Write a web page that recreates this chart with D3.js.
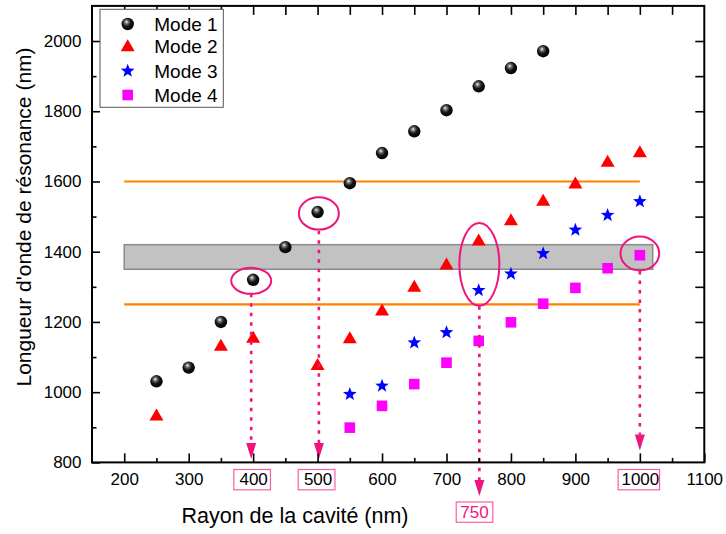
<!DOCTYPE html>
<html><head><meta charset="utf-8">
<script src="https://cdn.jsdelivr.net/npm/d3@7"></script>
<style>
html,body{margin:0;padding:0;background:#fff;}
svg{display:block;font-family:"Liberation Sans",Arial,sans-serif;}
</style></head>
<body>
<svg id="c" width="726" height="534"></svg>
<script>
// ---- data ----
const radii1 = [250,300,350,400,450,500,550,600,650,700,750,800,850];
const mode1  = [1031,1070,1200,1320,1413,1513,1595,1681,1743,1803,1871,1923,1971];
const radii2 = [250,350,400,500,550,600,650,700,750,800,850,900,950,1000];
const mode2  = [932,1131,1154,1076,1152,1231,1299,1362,1431,1488,1544,1593,1655,1682];
const radii3 = [550,600,650,700,750,800,850,900,950,1000];
const mode3  = [994,1018,1141,1170,1290,1337,1395,1462,1504,1543];
const radii4 = [550,600,650,700,750,800,850,900,950,1000];
const mode4  = [899,961,1023,1084,1146,1199,1252,1297,1353,1390];
const seriesNames = ["Mode 1","Mode 2","Mode 3","Mode 4"];
const xTicks = [200,300,400,500,600,700,800,900,1000,1100];
const yTicks = [800,1000,1200,1400,1600,1800,2000];
const xLabel = "Rayon de la cavité (nm)";
const yLabel = "Longueur d'onde de résonance (nm)";
// horizontal reference lines and band
const refLines = [1600,1250];
const refLineRange = [200,1000];
const band = {x0:200, x1:1020, y0:1350, y1:1420};
// highlighted points (ellipses): center x, center y, radius x, radius y (data units)
const ellX  = [397,502,751,1000];
const ellY  = [1317,1509,1364,1395];
const ellRX = [31,31,31,30];
const ellRY = [37,46,118,48];
// arrows from the ellipses down to the radius values
const arrX    = [397,502,751,1000];
const arrFrom = [1280,1460,1245,1345];
const arrTo   = [810,810,704,834];
const boxedTicks = [400,500,1000];
const extraLabel = {value:750, text:"750"};

// ---- layout ----
const svg = d3.select("#c");
const x = d3.scaleLinear().domain([150,1100]).range([92,704.3]);
const y = d3.scaleLinear().domain([800,2100]).range([462.4,5.9]);
const PINK = "#f0147f";
const defs = svg.append("defs");
const grad = defs.append("radialGradient").attr("id","sph").attr("cx","0.42").attr("cy","0.38").attr("r","0.62").attr("fx","0.4").attr("fy","0.33");
grad.append("stop").attr("offset","0").attr("stop-color","#ffffff");
grad.append("stop").attr("offset","0.22").attr("stop-color","#777");
grad.append("stop").attr("offset","0.55").attr("stop-color","#151515");
grad.append("stop").attr("offset","1").attr("stop-color","#000");

const g = svg.append("g");

// band
g.append("rect").attr("x",x(band.x0)).attr("y",y(band.y1))
 .attr("width",x(band.x1)-x(band.x0)).attr("height",y(band.y0)-y(band.y1))
 .attr("fill","#c2c2c2").attr("stroke","#8a8a8a").attr("stroke-width",1.5);

// orange lines
g.selectAll(".ref").data(refLines).join("line")
 .attr("x1",x(refLineRange[0])).attr("x2",x(refLineRange[1]))
 .attr("y1",d=>y(d)).attr("y2",d=>y(d))
 .attr("stroke","#ff8000").attr("stroke-width",2.2);

// axes
function styleAxis(sel){
  sel.select(".domain").remove();
  sel.selectAll("line").attr("stroke","#000").attr("stroke-width",1.6);
  sel.selectAll("text").attr("font-size","17px").attr("fill","#000").attr("font-family","Liberation Sans, Arial, sans-serif");
}
const minorX = [250,350,450,550,650,750,850,950,1050];
const minorY = [900,1100,1300,1500,1700,1900,2100];
svg.append("g").attr("transform","translate(0,462.4)")
 .call(d3.axisBottom(x).tickValues(xTicks).tickSize(-9).tickPadding(10.5).tickFormat(d3.format("d"))).call(styleAxis);
svg.append("g").attr("transform","translate(0,462.4)")
 .call(d3.axisBottom(x).tickValues(minorX).tickSize(-4.5).tickFormat("")).call(styleAxis);
svg.append("g").attr("transform","translate(92,0)")
 .call(d3.axisLeft(y).tickValues(yTicks).tickSize(-8).tickPadding(10.5).tickFormat(d3.format("d"))).call(styleAxis);
svg.append("g").attr("transform","translate(92,0)")
 .call(d3.axisLeft(y).tickValues(minorY.slice(0,6)).tickSize(-4.5).tickFormat("")).call(styleAxis);
svg.append("g").attr("transform","translate(0,5.9)")
 .call(d3.axisTop(x).tickValues(xTicks.slice(0,9).concat(minorX)).tickSize(-9).tickFormat("")).call(styleAxis);
svg.append("g").attr("transform","translate(704.3,0)")
 .call(d3.axisRight(y).tickValues(yTicks.slice(1).concat(minorY.slice(0,6))).tickSize(-9).tickFormat("")).call(styleAxis);
// frame
svg.append("rect").attr("x",92).attr("y",5.9).attr("width",704.3-92).attr("height",462.4-5.9)
 .attr("fill","none").attr("stroke","#000").attr("stroke-width",2);

// markers
function triPath(w,h){return `M0,${-h*0.62}L${w/2},${h*0.38}L${-w/2},${h*0.38}Z`;}
function starPath(R,r){let p="";for(let i=0;i<10;i++){const a=-Math.PI/2+i*Math.PI/5;const rr=i%2?r:R;p+=(i?"L":"M")+(rr*Math.cos(a)).toFixed(2)+","+(rr*Math.sin(a)).toFixed(2);}return p+"Z";}
function drawMarker(sel,k){
  if(k===0) sel.append("circle").attr("r",6.2).attr("fill","url(#sph)");
  else if(k===1) sel.append("path").attr("d",triPath(14,12)).attr("fill","#ff0000");
  else if(k===2) sel.append("path").attr("d",starPath(7.2,3)).attr("fill","#0000ff");
  else sel.append("rect").attr("x",-5.3).attr("y",-5.3).attr("width",10.6).attr("height",10.6).attr("fill","#ff00ff");
}
const all = [[radii1,mode1],[radii2,mode2],[radii3,mode3],[radii4,mode4]];
all.forEach(([xs,ys],k)=>{
  xs.forEach((xv,i)=>{
    const m = g.append("g").attr("transform",`translate(${x(xv)},${y(ys[i])})`);
    drawMarker(m,k);
  });
});

// ellipses
ellX.forEach((cx,i)=>{
  g.append("ellipse").attr("cx",x(cx)).attr("cy",y(ellY[i]))
   .attr("rx",x(cx+ellRX[i])-x(cx)).attr("ry",y(ellY[i])-y(ellY[i]+ellRY[i]))
   .attr("fill","none").attr("stroke",PINK).attr("stroke-width",2);
});
// arrows
arrX.forEach((ax,i)=>{
  const px = x(ax), yTip = y(arrTo[i]), yTop = yTip-16;
  g.append("line").attr("x1",px).attr("x2",px).attr("y1",y(arrFrom[i])).attr("y2",yTop)
   .attr("stroke",PINK).attr("stroke-width",2.6).attr("stroke-dasharray","3.5,6");
  g.append("path").attr("d",`M${px-5},${yTop}L${px+5},${yTop}L${px},${yTip}Z`).attr("fill",PINK);
});
// boxed tick labels
boxedTicks.forEach(v=>{
  const w = v>=1000?41.5:36.7;
  svg.append("rect").attr("x",x(v)-w/2-1).attr("y",469.5).attr("width",w).attr("height",20.3)
   .attr("fill","none").attr("stroke","#ff5aa8").attr("stroke-width",1.2);
});
svg.append("rect").attr("x",x(extraLabel.value)-22.5).attr("y",502).attr("width",36.6).attr("height",20.3)
 .attr("fill","none").attr("stroke","#ff5aa8").attr("stroke-width",1.2);
svg.append("text").attr("x",x(extraLabel.value)-4.2).attr("y",512.5).attr("text-anchor","middle")
 .attr("dominant-baseline","central").attr("font-size","17px").attr("fill",PINK).text(extraLabel.text);

// axis titles
svg.append("text").attr("x",295).attr("y",516).attr("text-anchor","middle").attr("dominant-baseline","central")
 .attr("font-size","21.5px").attr("fill","#000").text(xLabel);
svg.append("text").attr("transform","translate(23,217) rotate(-90)").attr("text-anchor","middle").attr("dominant-baseline","central")
 .attr("font-size","21px").attr("fill","#000").text(yLabel);

// legend
const lg = svg.append("g");
lg.append("rect").attr("x",100).attr("y",9.3).attr("width",123.3).attr("height",98)
 .attr("fill","#fff").attr("stroke","#555").attr("stroke-width",1);
const rowsY = [24,46.8,71,95];
seriesNames.forEach((n,k)=>{
  const m = lg.append("g").attr("transform",`translate(127.7,${rowsY[k]})`);
  drawMarker(m,k);
  lg.append("text").attr("x",154.3).attr("y",rowsY[k]).attr("dominant-baseline","central")
   .attr("font-size","19px").attr("fill","#000").text(n);
});
</script>
</body></html>
